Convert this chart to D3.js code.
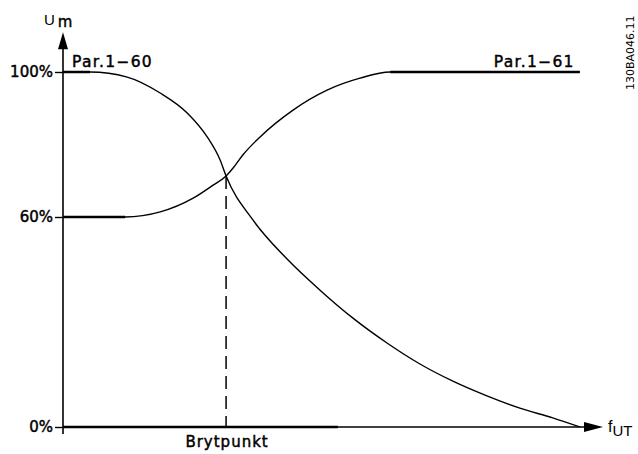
<!DOCTYPE html>
<html>
<head>
<meta charset="utf-8">
<script src="https://cdn.jsdelivr.net/npm/d3@7"></script>
<style>
  body { margin: 0; background: #fff; }
  text { fill: #000; }
</style>
</head>
<body>
<div id="wrapper"></div>
<script>
// Data (frequency in % of axis length, voltage Um in %)

const par160Freq = [0, 5, 11.9, 18, 23, 26.7, 29.1, 30.2, 35.2, 41.5, 47.6, 53.7, 60, 66.1, 72.2, 78.5, 84.6, 90.7, 95.7];
const par160Volt = [100, 100, 98.6, 94.2, 88.7, 82.1, 75.7, 71.3, 59.1, 48.0, 39.1, 31.1, 24.0, 18.0, 13.1, 8.9, 5.4, 2.6, 0];

const par161Freq = [0, 11.5, 18, 24.1, 27.8, 30.2, 31.5, 33.3, 36.5, 42.6, 48.9, 55, 60.6, 95.7];
const par161Volt = [60, 60, 61.4, 65.2, 68.8, 71.3, 73.5, 77.1, 82.1, 89.5, 95, 98.3, 100, 100];

const yTickValues = [0, 60, 100];
const yTickLabels = ["0%", "60%", "100%"];

const breakFreq = 30.2;
const breakVolt = 71.3;
const thickBaseFreq = [0, 50.9];

// dimensions
const width = 638;
const height = 454;

const svg = d3.select("#wrapper")
  .append("svg")
  .attr("width", width)
  .attr("height", height);

// scales (drawing is not to scale: 60% sits a bit low, so piecewise)
const x = d3.scaleLinear().domain([0, 100]).range([63, 603]);
const y = d3.scaleLinear().domain([0, 60, 100]).range([427, 217, 72]);

const font = "'DejaVu Sans', sans-serif";

function label(sel) {
  return sel
    .attr("font-family", font)
    .attr("font-size", 15)
    .attr("fill", "#000")
    .attr("stroke", "#000")
    .attr("stroke-width", 0.45);
}

// y axis ticks + labels
const yAxis = d3.axisLeft(y)
  .tickValues(yTickValues)
  .tickSize(8)
  .tickPadding(2)
  .tickFormat((d, i) => yTickLabels[i]);

const gy = svg.append("g")
  .attr("transform", `translate(${x(0)},0)`)
  .call(yAxis);
gy.select(".domain").remove();
gy.selectAll(".tick line").attr("stroke", "#000").attr("stroke-width", 1.4);
gy.selectAll(".tick text").call(label);

// axis lines with arrows
const yTop = y(111);
svg.append("line")
  .attr("x1", x(0)).attr("x2", x(0))
  .attr("y1", y(0) + 7).attr("y2", yTop + 16)
  .attr("stroke", "#000").attr("stroke-width", 1.6);
svg.append("path")
  .attr("d", `M${x(0)},${yTop} L${x(0) - 5},${yTop + 17} L${x(0) + 5},${yTop + 17} Z`)
  .attr("fill", "#000");

svg.append("line")
  .attr("x1", x(0)).attr("x2", x(100) - 18)
  .attr("y1", y(0)).attr("y2", y(0))
  .attr("stroke", "#000").attr("stroke-width", 1.4);
svg.append("path")
  .attr("d", `M${x(100)},${y(0)} L${x(100) - 19},${y(0) - 5} L${x(100) - 19},${y(0) + 5} Z`)
  .attr("fill", "#000");

// thick baseline part
svg.append("line")
  .attr("x1", x(thickBaseFreq[0])).attr("x2", x(thickBaseFreq[1]))
  .attr("y1", y(0)).attr("y2", y(0))
  .attr("stroke", "#000").attr("stroke-width", 2.6);

// curves
const line = d3.line()
  .x(d => x(d[0]))
  .y(d => y(d[1]))
  .curve(d3.curveMonotoneX);

function drawCurve(freq, volt) {
  const pts = freq.map((f, i) => [f, volt[i]]);
  svg.append("path")
    .datum(pts)
    .attr("d", line)
    .attr("fill", "none")
    .attr("stroke", "#000")
    .attr("stroke-width", 1.4);
  // flat parts drawn heavier
  for (let i = 1; i < pts.length; i++) {
    if (pts[i][1] === pts[i - 1][1]) {
      svg.append("line")
        .attr("x1", x(pts[i - 1][0])).attr("x2", x(pts[i][0]))
        .attr("y1", y(pts[i][1])).attr("y2", y(pts[i][1]))
        .attr("stroke", "#000").attr("stroke-width", 2.5);
    }
  }
}

drawCurve(par160Freq, par160Volt);
drawCurve(par161Freq, par161Volt);

// breakpoint dashed line
svg.append("line")
  .attr("x1", x(breakFreq)).attr("x2", x(breakFreq))
  .attr("y1", y(breakVolt)).attr("y2", y(0))
  .attr("stroke", "#000")
  .attr("stroke-width", 1.5)
  .attr("stroke-dasharray", "13,7");

// labels
svg.append("text")
  .attr("x", x(0) + 9).attr("y", y(100) - 5)
  .call(label)
  .attr("font-size", 15.5)
  .attr("letter-spacing", 1.3)
  .text("Par.1\u221260");

svg.append("text")
  .attr("x", x(par161Freq[par161Freq.length - 1]) - 5).attr("y", y(100) - 5)
  .attr("text-anchor", "end")
  .call(label)
  .attr("font-size", 15.5)
  .attr("letter-spacing", 1.3)
  .text("Par.1\u221261");

svg.append("text")
  .attr("x", x(breakFreq) + 1).attr("y", y(0) + 20)
  .attr("text-anchor", "middle")
  .call(label)
  .attr("letter-spacing", 1)
  .text("Brytpunkt");

// axis titles
const um = svg.append("text")
  .attr("x", 44).attr("y", 25)
  .attr("font-family", "'Liberation Sans', Arial, sans-serif")
  .attr("font-size", 15);
um.append("tspan").text("U");
um.append("tspan").attr("dx", 3).attr("dy", 2)
  .attr("font-family", font).attr("font-size", 15)
  .attr("stroke", "#000").attr("stroke-width", 0.4)
  .text("m");

const fut = svg.append("text")
  .attr("x", x(100) + 5).attr("y", y(0) + 5)
  .attr("font-family", "'Liberation Sans', Arial, sans-serif")
  .attr("font-size", 16);
fut.append("tspan").text("f");
fut.append("tspan").attr("dy", 4).attr("font-size", 15).text("UT");

// drawing number
svg.append("text")
  .attr("transform", "translate(634,90) rotate(-90)")
  .attr("font-family", font).attr("font-size", 11)
  .text("130BA046.11");
</script>
</body>
</html>
